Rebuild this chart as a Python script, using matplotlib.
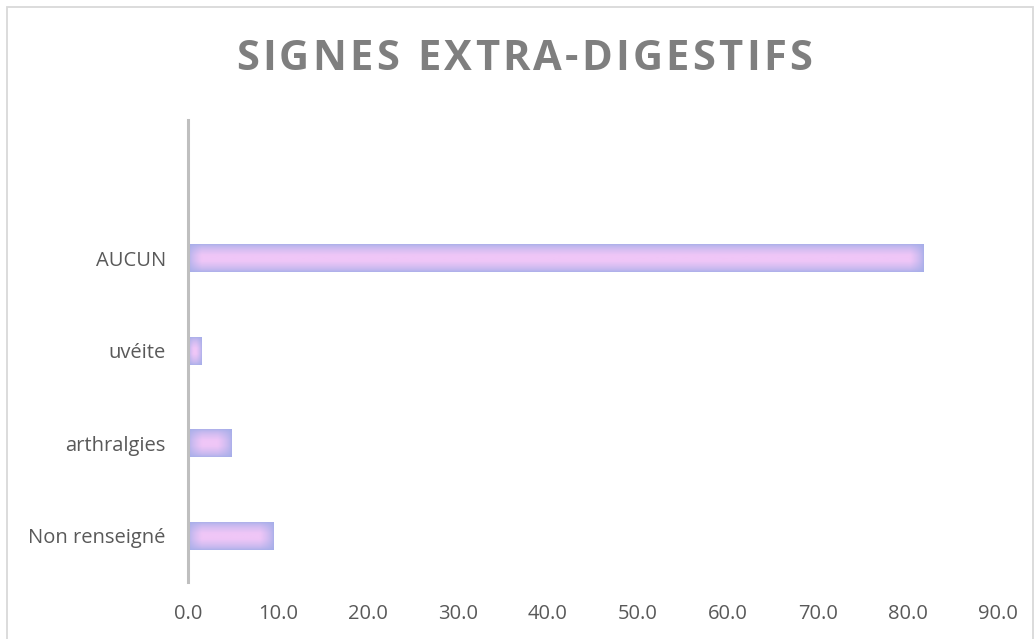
import numpy as np
import matplotlib.pyplot as plt
from matplotlib.colors import to_rgb
from matplotlib.patches import Rectangle

# data (bottom to top), top slot is empty in the original
categories = ['Non renseigné', 'arthralgies', 'uvéite', 'AUCUN', '']
values = [9.5, 4.8, 1.5, 81.7, 0.0]
xticks = [0, 10, 20, 30, 40, 50, 60, 70, 80, 90]
title = 'SIGNES EXTRA-DIGESTIFS'

pink = np.array(to_rgb('#efc6f7'))
blue = np.array(to_rgb('#97a9e6'))
label_col = '#595959'


def gradient_bar(ax, y, w, h, fig):
    if w <= 0:
        return
    # size of the bar in pixels, to keep the fade the same width everywhere
    p0 = ax.transData.transform((0, y - h / 2))
    p1 = ax.transData.transform((w, y + h / 2))
    npx = max(int(abs(p1[0] - p0[0])), 2)
    npy = max(int(abs(p1[1] - p0[1])), 2)
    xx = np.arange(npx) + 0.5
    yy = np.arange(npy) + 0.5
    dx = np.minimum(xx, npx - xx)[None, :]
    dy = np.minimum(yy, npy - yy)[:, None]
    tx = np.clip(dx / min(14, npx * 0.4), 0, 1)
    ty = np.clip(dy / (npy * 0.4), 0, 1)
    t = np.clip(tx * ty, 0, 1) ** 0.6
    t = 0.15 + 0.85 * t
    img = blue[None, None, :] * (1 - t[..., None]) + pink[None, None, :] * t[..., None]
    ax.imshow(img, extent=(0, w, y - h / 2, y + h / 2), aspect='auto',
              interpolation='bilinear', zorder=2)


def spaced_title(fig, text, xc, yc, spacing, **kw):
    fig.canvas.draw()
    r = fig.canvas.get_renderer()
    widths = []
    for ch in text:
        t = fig.text(0, 0, ch if ch != ' ' else 'n', **kw)
        widths.append(t.get_window_extent(r).width * (0.45 if ch == ' ' else 1))
        t.remove()
    W = fig.bbox.width
    total = sum(widths) + spacing * (len(text) - 1)
    x = xc * W - total / 2
    for ch, w in zip(text, widths):
        fig.text(x / W, yc, ch, ha='left', va='center', **kw)
        x += w + spacing


def main():
    plt.rcParams['font.family'] = ['Open Sans', 'DejaVu Sans']
    fig = plt.figure(figsize=(10.35, 6.39), dpi=100)
    ax = fig.add_axes([188 / 1035, 1 - 582 / 639, (998 - 188) / 1035, (582 - 120) / 639])

    ypos = np.arange(len(categories))
    ax.set_xlim(0, 90)
    ax.set_ylim(-0.5, len(categories) - 0.5)

    for y, v in zip(ypos, values):
        gradient_bar(ax, y, v, 0.3, fig)
    ax.set_xlim(0, 90)
    ax.set_ylim(-0.5, len(categories) - 0.5)

    ax.set_yticks(ypos)
    ax.set_yticklabels(categories)
    ax.set_xticks(xticks)
    ax.set_xticklabels([f'{v:.1f}' for v in xticks])
    ax.tick_params(axis='both', length=0, labelsize=14.5, labelcolor=label_col)
    ax.tick_params(axis='y', pad=16)
    ax.tick_params(axis='x', pad=16)

    for s in ['top', 'right', 'bottom']:
        ax.spines[s].set_visible(False)
    ax.spines['left'].set_color('#bfbfbf')
    ax.spines['left'].set_linewidth(2.2)
    ax.spines['left'].set_zorder(3)

    # chart frame
    fig.patches.append(Rectangle((7 / 1035, -0.05), (1033 - 7) / 1035, 1.05 - 7 / 639,
                                 transform=fig.transFigure, fill=False,
                                 edgecolor='#d9d9d9', linewidth=1.3))

    spaced_title(fig, title, 0.506, 1 - 59 / 639, 3.2, fontsize=30,
                 fontweight='bold', color='#7f7f7f')

    fig.savefig('out.png', dpi=100)


if __name__ == '__main__':
    main()
